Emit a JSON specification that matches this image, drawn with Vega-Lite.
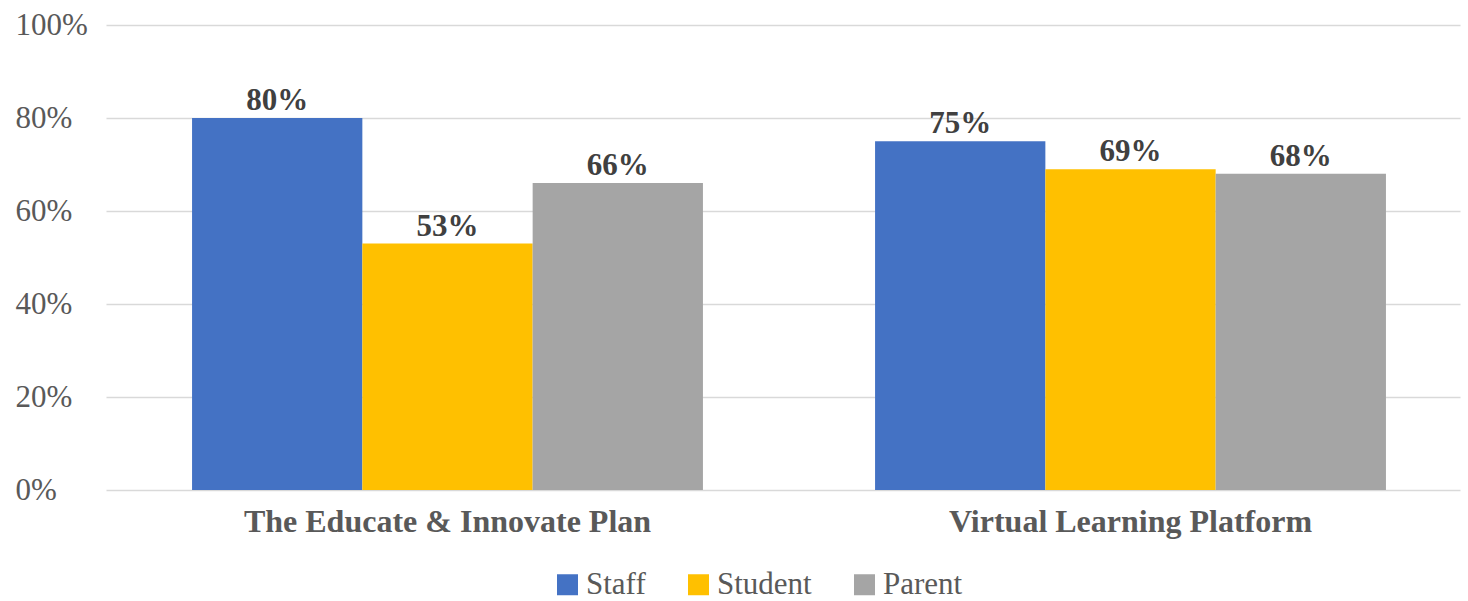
{
  "$schema": "https://vega.github.io/schema/vega-lite/v6.json",
  "autosize": {"type": "none"},
  "width": 1354,
  "height": 465,
  "padding": {"left": 106, "top": 25, "right": 8, "bottom": 111},
  "background": "white",
  "config": {
    "font": "Liberation Serif",
    "view": {"stroke": null},
    "legend": {"labelFont": "Liberation Serif"},
    "style": {"guide-label": {"font": "Liberation Serif"}}
  },
  "data": {
    "values": [
      {"category": "The Educate & Innovate Plan", "group": "Staff", "value": 0.80},
      {"category": "The Educate & Innovate Plan", "group": "Student", "value": 0.53},
      {"category": "The Educate & Innovate Plan", "group": "Parent", "value": 0.66},
      {"category": "Virtual Learning Platform", "group": "Staff", "value": 0.75},
      {"category": "Virtual Learning Platform", "group": "Student", "value": 0.69},
      {"category": "Virtual Learning Platform", "group": "Parent", "value": 0.68}
    ]
  },
  "encoding": {
    "x": {
      "field": "category", "type": "nominal", "sort": null,
      "scale": {"paddingInner": 0.252, "paddingOuter": 0.1172, "align": 0.5375},
      "axis": {
        "title": null, "labelAngle": 0, "domain": false, "ticks": false,
        "labelFont": "Liberation Serif", "labelFontSize": 32, "labelFontWeight": "bold",
        "labelColor": "#595959", "labelPadding": 16, "labelLimit": 0
      }
    },
    "xOffset": {"field": "group", "type": "nominal", "sort": ["Staff", "Student", "Parent"], "scale": {"paddingInner": 0, "paddingOuter": 0}},
    "y": {
      "field": "value", "type": "quantitative",
      "scale": {"domain": [0, 1]},
      "axis": {
        "title": null, "format": ".0%", "values": [0, 0.2, 0.4, 0.6, 0.8, 1],
        "domain": false, "ticks": false, "gridColor": "#d9d9d9", "gridWidth": 1.5,
        "labelFont": "Liberation Serif", "labelFontSize": 31, "labelColor": "#595959",
        "labelAlign": "left", "labelPadding": 91, "labelOverlap": false, "labelFlush": false
      }
    }
  },
  "layer": [
    {
      "mark": {"type": "bar"},
      "encoding": {
        "color": {
          "field": "group", "type": "nominal", "sort": ["Staff", "Student", "Parent"],
          "scale": {"domain": ["Staff", "Student", "Parent"], "range": ["#4472C4", "#FFC000", "#A5A5A5"]},
          "legend": {
            "title": null, "orient": "none", "direction": "horizontal",
            "legendX": 446, "legendY": 544,
            "symbolType": "square", "symbolSize": 441, "symbolStrokeWidth": 0,
            "labelFont": "Liberation Serif", "labelFontSize": 31, "labelColor": "#595959",
            "columnPadding": 37, "symbolOffset": 0, "labelOffset": 3
          }
        }
      }
    },
    {
      "mark": {"type": "text", "baseline": "bottom", "dy": -1, "font": "Liberation Serif", "fontSize": 31, "fontWeight": "bold", "color": "#404040"},
      "encoding": {
        "text": {"field": "value", "type": "quantitative", "format": ".0%"}
      }
    }
  ]
}
